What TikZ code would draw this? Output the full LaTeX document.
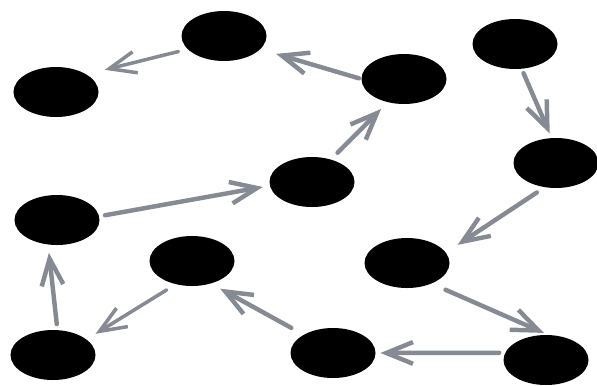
\documentclass[tikz,border=0pt]{standalone}
\usetikzlibrary{arrows.meta, shapes.geometric}
\definecolor{cLink}{HTML}{868B93}
\tikzset{
  vertex/.style={ellipse, fill=black, draw=none, minimum width=2.55cm,
    minimum height=1.5cm, inner sep=0pt},
  link/.style={-{Straight Barb[length=8mm, width=6.5mm]}, line width=3.8pt,
    draw=cLink, line cap=round, line join=round},
  thinlink/.style={link, line width=3pt},
}

\begin{document}
\begin{tikzpicture}[x=0.03cm, y=-0.03cm]

  \useasboundingbox (0,0) rectangle (597,385);

  % ----------------------------------------------------------------
  % Vertices (placed at pixel positions of the sketch)
  % ----------------------------------------------------------------
  \node[vertex] (top)      at (224,36)  {};
  \node[vertex] (farleft)  at (56,92)   {};
  \node[vertex] (upper)    at (404,79)  {};
  \node[vertex] (corner)   at (515,44)  {};
  \node[vertex] (right)    at (556,163) {};
  \node[vertex] (centre)   at (312,182) {};
  \node[vertex] (left)     at (57,220)  {};
  \node[vertex] (inner)    at (192,261) {};
  \node[vertex] (lowright) at (407,263) {};
  \node[vertex] (botleft)  at (53,355)  {};
  \node[vertex] (botmid)   at (333,353) {};
  \node[vertex] (botright) at (546,360) {};

  % ----------------------------------------------------------------
  % Directed links
  % ----------------------------------------------------------------
  \draw[thinlink, shorten <=8pt, shorten >=16pt] (top.200) -- (farleft.30);
  \draw[link, shorten <=2pt, shorten >=14pt] (upper.180) -- (top.-20);
  \draw[link, shorten <=8pt, shorten >=8pt] (centre.50) -- (upper.235);
  \draw[link, shorten <=4pt, shorten >=4pt] (corner.-75) -- (right.100);
  \draw[link, shorten <=8pt, shorten >=12pt] (right.245) -- (lowright.15);
  \draw[link, shorten <=13pt, shorten >=4pt] (lowright.-40) -- (botright.85);
  \draw[link, shorten <=5pt, shorten >=4pt] (botright.170) -- (botmid.0);
  \draw[link, shorten <=12pt, shorten >=9pt] (botmid.148) -- (inner.-50);
  \draw[thinlink, shorten <=9pt, shorten >=9pt] (inner.235) -- (botleft.25);
  \draw[link, shorten <=5pt, shorten >=7pt] (botleft.80) -- (left.250);
  \draw[link, shorten <=5pt, shorten >=6pt] (left.5) -- (centre.185);

\end{tikzpicture}
\end{document}
